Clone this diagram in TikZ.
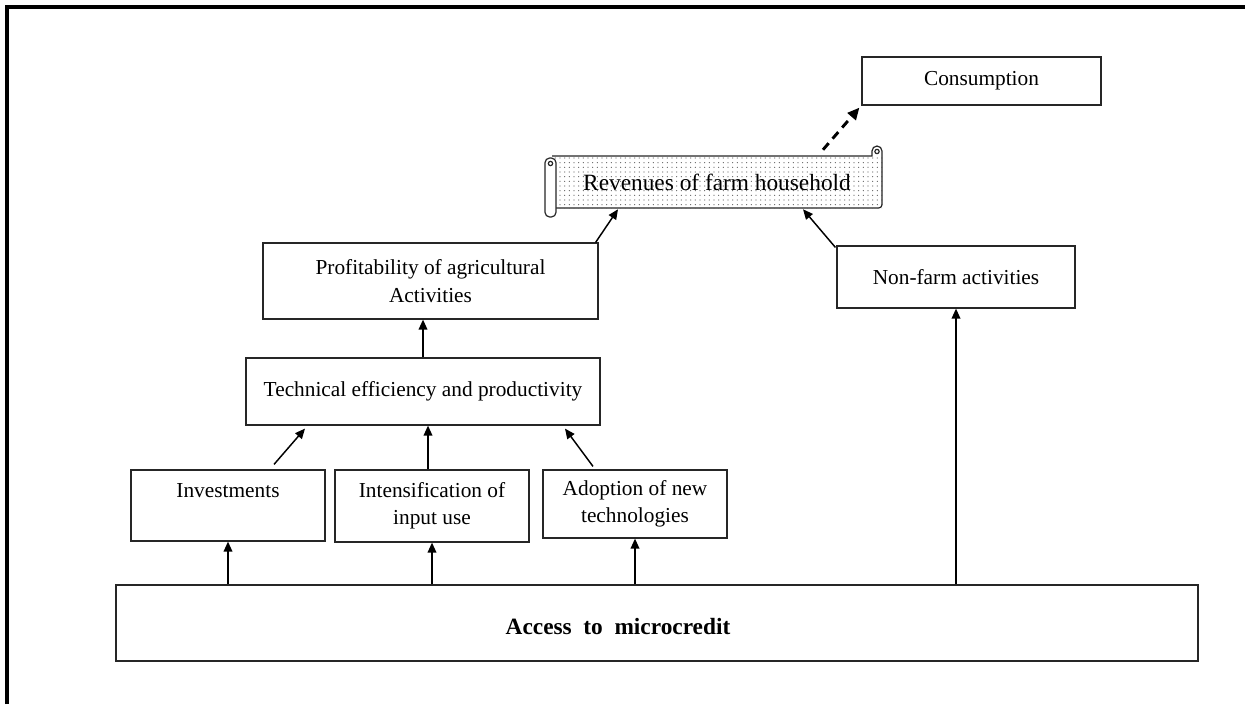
\documentclass[tikz,border=0pt]{standalone}
\usepackage{fontspec}
\setmainfont{Liberation Serif}
\usetikzlibrary{arrows.meta,patterns.meta,calc}

\begin{document}
\begin{tikzpicture}[x=0.75pt,y=-0.75pt,
  box/.style={draw=black!85, line width=0.9pt, fill=white, inner sep=0pt,
    align=center, font=\fontsize{16}{20.5}\selectfont},
  arr/.style={-{Triangle[length=7.5pt,width=6.5pt]}, line width=1.1pt},
  dasharr/.style={-{Triangle[length=9pt,width=8pt]}, line width=2.2pt,
    dash pattern=on 6.5pt off 4.5pt},
  scrolline/.style={draw=black!85, line width=0.9pt}
]
\useasboundingbox (0,0) rectangle (1245,704);

% page frame
\draw[line width=2.3pt] (7,704) -- (7,7) -- (1245,7);

% boxes
\node[box, minimum width=179.25pt, minimum height=36pt] (cons) at (981.5,81) {Consumption};
\node[box, minimum width=251.25pt, minimum height=57pt] (prof) at (430.5,281)
  {Profitability of agricultural\\Activities};
\node[box, minimum width=178.5pt, minimum height=46.5pt] (nf) at (956,277) {Non-farm activities};
\node[box, minimum width=265.5pt, minimum height=50.25pt] (tech) at (423,391.5)
  {Technical efficiency and productivity};
\node[box, minimum width=145.5pt, minimum height=53.25pt] (inv) at (228,505.5)
  {Investments\\[-4pt]\strut};
\node[box, minimum width=145.5pt, minimum height=54pt] (int) at (432,506)
  {Intensification of\\input use};
\node[box, minimum width=138pt, minimum height=51pt] (ado) at (635,504)
  {Adoption of new\\technologies};
\node[box, minimum width=811.5pt, minimum height=57pt] (mc) at (657,623) {};
\node[font=\fontsize{17.5}{21}\selectfont\bfseries, inner sep=0pt] (mct) at (618,627)
  {Access\ \ to\ \ microcredit};

% scroll banner
\node[inner sep=0pt, minimum width=247.5pt, minimum height=39pt, fill=white,
  postaction={pattern={Dots[distance=3.5pt,radius=0.45pt]}, pattern color=black!60}]
  (rev) at (717,182) {};
\draw[scrolline, rounded corners=2.5pt] (556,208) -- (882,208) -- (882,151);
\draw[scrolline] (882,151) arc[start angle=0,end angle=180,radius=3.75pt] -- (872,156) -- (552,156);
\draw[scrolline] (877,151.5) circle[radius=1.6pt];
\draw[scrolline, fill=white, rounded corners=3.5pt] (545,158) rectangle (556,217);
\draw[scrolline] (550.5,163.5) circle[radius=1.6pt];
\node[font=\fontsize{17.5}{21}\selectfont, inner sep=1pt] (revt) at (rev) {Revenues of farm household};

% connectors
\draw[arr] (inv.south |- mc.north) -- (inv.south);
\draw[arr] (int.south |- mc.north) -- (int.south);
\draw[arr] (ado.south |- mc.north) -- (ado.south);
\draw[arr] (nf.south |- mc.north) -- (nf.south);
\draw[arr] ($(inv.north)+(46,-5)$) -- ($(tech.south)+(-118,3)$);
\draw[arr] ($(int.north)+(-4,0)$) -- ($(tech.south)+(5,0)$);
\draw[arr] ($(ado.north)+(-42,-3)$) -- ($(tech.south)+(142,3)$);
\draw[arr] (tech.north) -- (tech.north |- prof.south);
\draw[arr] ($(prof.north east)+(-3,0)$) -- ($(rev.south)+(-99,1)$);
\draw[arr] ($(nf.north west)+(-1,2)$) -- ($(rev.south)+(86,1)$);
\draw[dasharr] ($(rev.north)+(106,-6)$) -- ($(cons.south west)+(-2,2)$);
\end{tikzpicture}
\end{document}
